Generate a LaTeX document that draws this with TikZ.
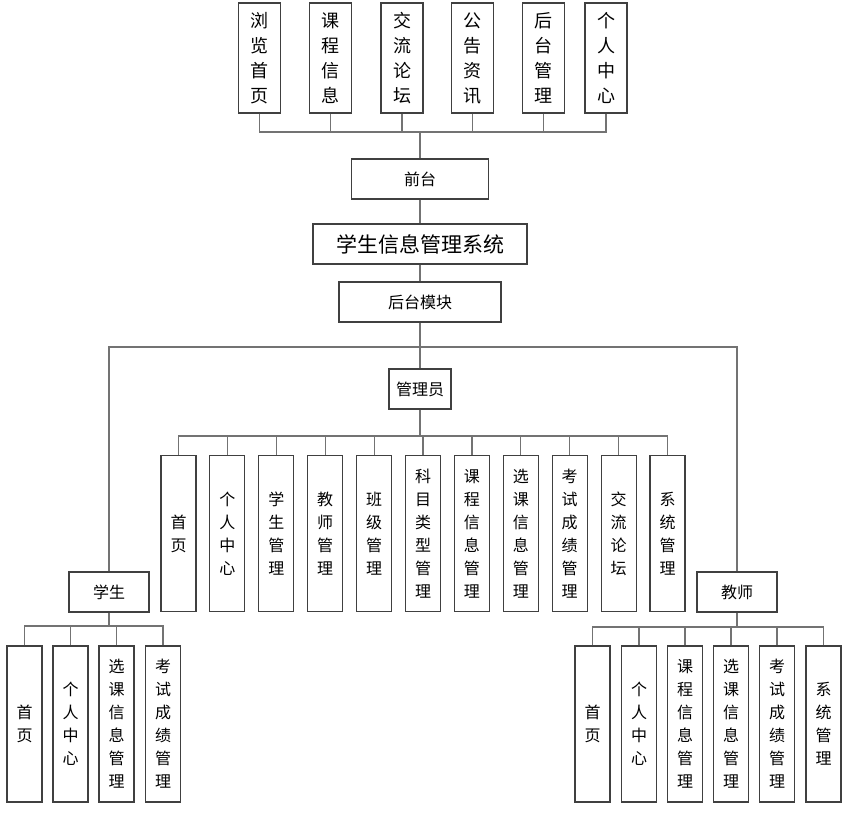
\documentclass[tikz,border=0pt]{standalone}
\usepackage{fontspec}
\setmainfont{Noto Sans CJK SC}
\usepackage{tikz}
\usetikzlibrary{positioning}

\begin{document}
\begin{tikzpicture}[
    x=1pt, y=-1pt,
    box/.style={draw=black!75, line width=1.1pt, fill=white, inner sep=0pt, align=center},
    top-box/.style={box, minimum width=42pt, minimum height=110pt, font=\fontsize{18}{25}\selectfont},
    leaf-box/.style={box, minimum width=35pt, minimum height=156pt, font=\fontsize{16}{23}\selectfont},
    role-box/.style={box, minimum width=80pt, minimum height=40pt, font=\fontsize{16}{20}\selectfont},
    link/.style={draw=black!55, line width=1.2pt}
]
    \useasboundingbox (0,0) rectangle (851,814);

    % front end
    \node[top-box] (t1) at (259.5,58) {浏\\览\\首\\页};
    \node[top-box] (t2) at (330.5,58) {课\\程\\信\\息};
    \node[top-box] (t3) at (402,58) {交\\流\\论\\坛};
    \node[top-box] (t4) at (472.5,58) {公\\告\\资\\讯};
    \node[top-box] (t5) at (543.5,58) {后\\台\\管\\理};
    \node[top-box] (t6) at (606,58) {个\\人\\中\\心};

    \node[role-box, minimum width=137pt] (front) at (420,179) {前台};
    \node[box, minimum width=214pt, minimum height=40pt, font=\fontsize{21}{24}\selectfont] (sys) at (420,244) {学生信息管理系统};
    \node[role-box, minimum width=162pt] (back) at (420,302) {后台模块};

    % roles
    \node[role-box, minimum width=62pt] (admin) at (420,389) {管理员};
    \node[role-box] (stu) at (109,592) {学生};
    \node[role-box] (tea) at (737,592) {教师};

    % admin functions
    \node[leaf-box] (a1) at (178.5,533.5) {首\\页};
    \node[leaf-box] (a2) at (227.4,533.5) {个\\人\\中\\心};
    \node[leaf-box] (a3) at (276.3,533.5) {学\\生\\管\\理};
    \node[leaf-box] (a4) at (325.2,533.5) {教\\师\\管\\理};
    \node[leaf-box] (a5) at (374.1,533.5) {班\\级\\管\\理};
    \node[leaf-box] (a6) at (423,533.5) {科\\目\\类\\型\\管\\理};
    \node[leaf-box] (a7) at (471.9,533.5) {课\\程\\信\\息\\管\\理};
    \node[leaf-box] (a8) at (520.8,533.5) {选\\课\\信\\息\\管\\理};
    \node[leaf-box] (a9) at (569.7,533.5) {考\\试\\成\\绩\\管\\理};
    \node[leaf-box] (a10) at (618.6,533.5) {交\\流\\论\\坛};
    \node[leaf-box] (a11) at (667.5,533.5) {系\\统\\管\\理};

    % student functions
    \node[leaf-box] (s1) at (24.5,724) {首\\页};
    \node[leaf-box] (s2) at (70.5,724) {个\\人\\中\\心};
    \node[leaf-box] (s3) at (116.5,724) {选\\课\\信\\息\\管\\理};
    \node[leaf-box] (s4) at (163,724) {考\\试\\成\\绩\\管\\理};

    % teacher functions
    \node[leaf-box] (e1) at (592.5,724) {首\\页};
    \node[leaf-box] (e2) at (639,724) {个\\人\\中\\心};
    \node[leaf-box] (e3) at (685,724) {课\\程\\信\\息\\管\\理};
    \node[leaf-box] (e4) at (731,724) {选\\课\\信\\息\\管\\理};
    \node[leaf-box] (e5) at (777,724) {考\\试\\成\\绩\\管\\理};
    \node[leaf-box] (e6) at (823.5,724) {系\\统\\管\\理};

    % connectors
    \coordinate (top-bus) at (420,132);
    \coordinate (main-bus) at (420,347);
    \coordinate (admin-bus) at (420,436);
    \coordinate (stu-bus) at (109,626);
    \coordinate (tea-bus) at (737,627);

    \draw[link] (t1.south) |- (top-bus) (t2.south) |- (top-bus) (t3.south) |- (top-bus)
                (t4.south) |- (top-bus) (t5.south) |- (top-bus) (t6.south) |- (top-bus);
    \draw[link] (front.north) -- (top-bus);
    \draw[link] (front.south) -- (sys.north);
    \draw[link] (sys.south) -- (back.north);
    \draw[link] (back.south) -- (main-bus);
    \draw[link] (admin.north) -- (main-bus);
    \draw[link] (stu.north) |- (main-bus) (tea.north) |- (main-bus);

    \draw[link] (admin.south) -- (admin-bus);
    \draw[link] (a1.north) |- (admin-bus) (a2.north) |- (admin-bus) (a3.north) |- (admin-bus)
                (a4.north) |- (admin-bus) (a5.north) |- (admin-bus) (a6.north) |- (admin-bus)
                (a7.north) |- (admin-bus) (a8.north) |- (admin-bus) (a9.north) |- (admin-bus)
                (a10.north) |- (admin-bus) (a11.north) |- (admin-bus);

    \draw[link] (stu.south) -- (stu-bus);
    \draw[link] (s1.north) |- (stu-bus) (s2.north) |- (stu-bus) (s3.north) |- (stu-bus) (s4.north) |- (stu-bus);

    \draw[link] (tea.south) -- (tea-bus);
    \draw[link] (e1.north) |- (tea-bus) (e2.north) |- (tea-bus) (e3.north) |- (tea-bus)
                (e4.north) |- (tea-bus) (e5.north) |- (tea-bus) (e6.north) |- (tea-bus);

\end{tikzpicture}
\end{document}
